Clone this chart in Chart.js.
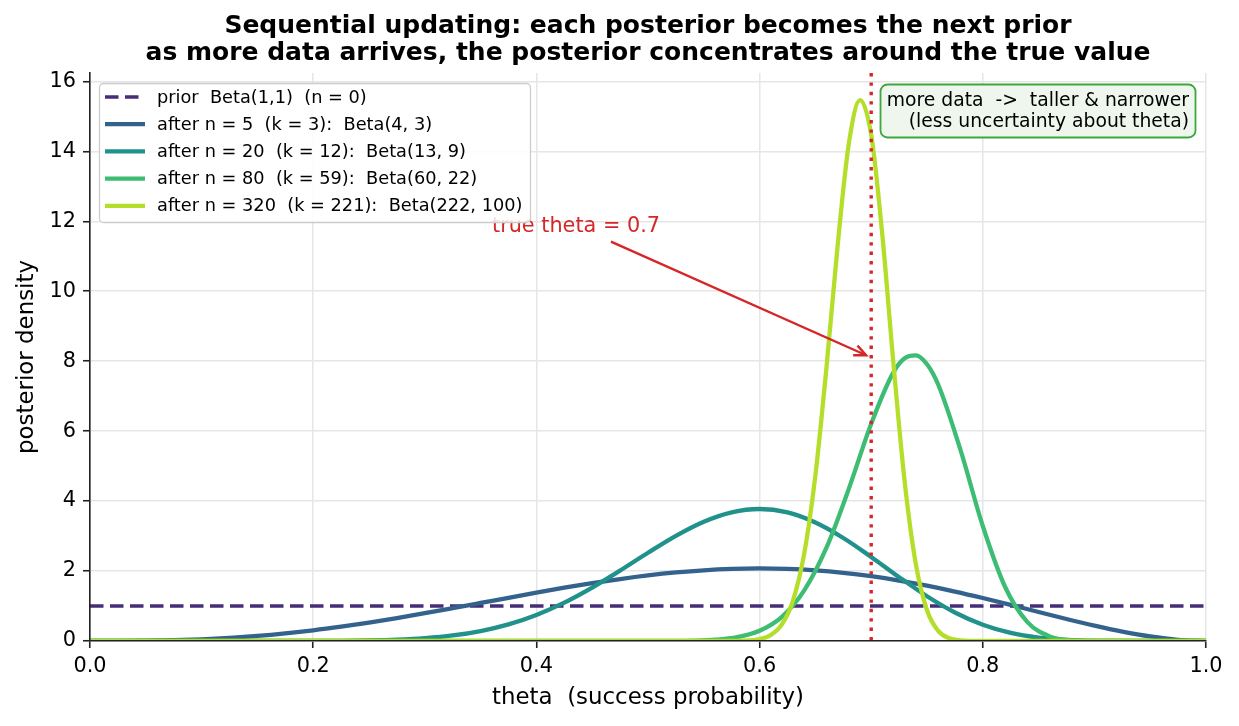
<!DOCTYPE html>
<html>
<head>
<meta charset="utf-8">
<script src="https://cdn.jsdelivr.net/npm/chart.js@4.4.1/dist/chart.umd.min.js"></script>
<style>
  html, body { margin: 0; padding: 0; background: #fff; }
  #wrap { width: 1239px; height: 726px; }
</style>
</head>
<body>
<div id="wrap"><canvas id="chart" width="1239" height="726"></canvas></div>
<script>
// Posterior densities (theta grid + density per curve)
const priorTheta = [0, 1];
const priorDensity = [1, 1];

const theta5 = [0, 0.025, 0.05, 0.075, 0.1, 0.125, 0.15, 0.175, 0.2, 0.225, 0.25, 0.275, 0.3, 0.325, 0.35, 0.375, 0.4, 0.425, 0.45, 0.475, 0.5,
    0.525, 0.55, 0.575, 0.6, 0.625, 0.65, 0.675, 0.7, 0.725, 0.75, 0.775, 0.8, 0.825, 0.85, 0.875, 0.9, 0.925, 0.95, 0.975, 1];
const density5 = [0, 0.0009, 0.007, 0.022, 0.049, 0.090, 0.146, 0.219, 0.307, 0.411, 0.527, 0.656, 0.794, 0.939, 1.087, 1.236, 1.382, 1.523, 1.654, 1.772, 1.875,
    1.959, 2.022, 2.060, 2.074, 2.060, 2.019, 1.949, 1.852, 1.729, 1.582, 1.414, 1.229, 1.032, 0.829, 0.628, 0.437, 0.267, 0.129, 0.035, 0];

const theta20 = [0, 0.1, 0.15, 0.2, 0.225, 0.25, 0.275, 0.3, 0.325, 0.35, 0.375, 0.4, 0.425, 0.45, 0.475, 0.5, 0.525, 0.55, 0.575, 0.6,
    0.625, 0.65, 0.675, 0.7, 0.725, 0.75, 0.775, 0.8, 0.825, 0.85, 0.875, 0.9, 0.95, 1];
const density20 = [0, 0, 0.0001, 0.002, 0.006, 0.016, 0.038, 0.081, 0.158, 0.285, 0.476, 0.746, 1.098, 1.528, 2.014, 2.522, 3.006, 3.409, 3.678, 3.774,
    3.676, 3.388, 2.946, 2.403, 1.825, 1.279, 0.816, 0.465, 0.231, 0.097, 0.032, 0.007, 0.0001, 0];

const theta80 = [0, 0.48, 0.5, 0.52, 0.54, 0.56, 0.58, 0.6, 0.62, 0.64, 0.66, 0.68, 0.7, 0.72, 0.73, 0.74, 0.75, 0.76, 0.78, 0.8, 0.82, 0.84, 0.86, 0.88, 0.9, 0.92, 1];
const density80 = [0, 0.0001, 0.0007, 0.003, 0.011, 0.037, 0.111, 0.293, 0.691, 1.445, 2.674, 4.357, 6.212, 7.689, 8.083, 8.166, 7.912, 7.334, 5.463, 3.287, 1.544, 0.539, 0.131, 0.020, 0.0016, 0.0001, 0];

const theta320 = [0, 0.58, 0.59, 0.6, 0.61, 0.62, 0.63, 0.64, 0.65, 0.66, 0.67, 0.68, 0.69, 0.7, 0.71, 0.72, 0.73, 0.74, 0.75, 0.76, 0.77, 0.78, 0.79, 0.8, 1];
const density320 = [0, 0.004, 0.015, 0.054, 0.171, 0.474, 1.162, 2.504, 4.737, 7.845, 11.331, 14.232, 15.465, 14.474, 11.6, 7.908, 4.553, 2.195, 0.878, 0.288, 0.077, 0.016, 0.003, 0.0004, 0];

const seriesLabels = [
    'prior  Beta(1,1)  (n = 0)',
    'after n = 5  (k = 3):  Beta(4, 3)',
    'after n = 20  (k = 12):  Beta(13, 9)',
    'after n = 80  (k = 59):  Beta(60, 22)',
    'after n = 320  (k = 221):  Beta(222, 100)'
];
const seriesColors = ['#472c7a', '#33638d', '#21918c', '#3dbc74', '#b5de2b'];

const xTicks = [0, 0.2, 0.4, 0.6, 0.8, 1.0];
const yTicks = [0, 2, 4, 6, 8, 10, 12, 14, 16];

const trueTheta = 0.7;
const titleLines = [
    'Sequential updating: each posterior becomes the next prior',
    'as more data arrives, the posterior concentrates around the true value'
];
const noteLines = ['more data  ->  taller & narrower', '(less uncertainty about theta)'];

const RED = '#d62728';
const FONT = "'DejaVu Sans', 'Liberation Sans', sans-serif";

function toPoints(xs, ys) {
    return xs.map((x, i) => ({ x: x, y: ys[i] }));
}

const thetas = [priorTheta, theta5, theta20, theta80, theta320];
const densities = [priorDensity, density5, density20, density80, density320];

const datasets = thetas.map((xs, i) => ({
    label: seriesLabels[i],
    data: toPoints(xs, densities[i]),
    borderColor: seriesColors[i],
    borderWidth: i === 0 ? 3.3 : 4.3,
    borderDash: i === 0 ? [13.5, 6.5] : [],
    pointRadius: 0,
    fill: false,
    cubicInterpolationMode: 'monotone',
    clip: 0,
    order: 5 - i
}));

// Extra drawing: true value line, annotation, legend box, note box, title
const extras = {
    id: 'extras',
    beforeDraw(chart) {
        const ctx = chart.ctx;
        ctx.save();
        ctx.fillStyle = '#fff';
        ctx.fillRect(0, 0, chart.width, chart.height);
        ctx.restore();
    },
    afterDatasetsDraw(chart) {
        const { ctx, chartArea } = chart;
        const xs = chart.scales.x, ys = chart.scales.y;
        ctx.save();
        ctx.beginPath();
        ctx.rect(chartArea.left, chartArea.top, chartArea.right - chartArea.left, chartArea.bottom - chartArea.top);
        ctx.clip();

        // vertical dotted line at the true value
        const px = xs.getPixelForValue(trueTheta);
        ctx.strokeStyle = RED;
        ctx.lineWidth = 3.4;
        ctx.setLineDash([3.4, 6]);
        ctx.beginPath();
        ctx.moveTo(px, chartArea.top);
        ctx.lineTo(px, chartArea.bottom);
        ctx.stroke();
        ctx.setLineDash([]);

        // annotation arrow
        const x0 = xs.getPixelForValue(0.4668), y0 = ys.getPixelForValue(11.42);
        const x1 = xs.getPixelForValue(0.6955), y1 = ys.getPixelForValue(8.17);
        ctx.lineWidth = 2.4;
        ctx.beginPath();
        ctx.moveTo(x0, y0);
        ctx.lineTo(x1, y1);
        ctx.stroke();
        const ang = Math.atan2(y1 - y0, x1 - x0);
        const head = 13;
        ctx.beginPath();
        ctx.moveTo(x1 - head * Math.cos(ang - 0.42), y1 - head * Math.sin(ang - 0.42));
        ctx.lineTo(x1, y1);
        ctx.lineTo(x1 - head * Math.cos(ang + 0.42), y1 - head * Math.sin(ang + 0.42));
        ctx.stroke();

        ctx.fillStyle = RED;
        ctx.font = '20.8px ' + FONT;
        ctx.textAlign = 'left';
        ctx.textBaseline = 'middle';
        ctx.fillText('true theta = 0.7', xs.getPixelForValue(0.3602), ys.getPixelForValue(11.84));
        ctx.restore();
    },
    afterDraw(chart) {
        const ctx = chart.ctx;
        ctx.save();

        // title
        ctx.fillStyle = '#000';
        ctx.font = 'bold 25px ' + FONT;
        ctx.textAlign = 'center';
        ctx.textBaseline = 'middle';
        const cx = (chart.chartArea.left + chart.chartArea.right) / 2;
        ctx.fillText(titleLines[0], cx, 26);
        ctx.fillText(titleLines[1], cx, 53.5);

        // legend
        ctx.beginPath();
        ctx.roundRect(99.5, 83.5, 431, 139, 4);
        ctx.fillStyle = 'rgba(255,255,255,0.85)';
        ctx.fill();
        ctx.strokeStyle = '#cccccc';
        ctx.lineWidth = 1.3;
        ctx.stroke();
        ctx.font = '17.75px ' + FONT;
        ctx.textAlign = 'left';
        chart.data.datasets.forEach((ds, i) => {
            const y = 97 + i * 27.2;
            ctx.strokeStyle = ds.borderColor;
            ctx.lineWidth = ds.borderWidth;
            ctx.setLineDash(ds.borderDash);
            ctx.beginPath();
            ctx.moveTo(105, y);
            ctx.lineTo(145, y);
            ctx.stroke();
            ctx.setLineDash([]);
            ctx.fillStyle = '#000';
            ctx.fillText(ds.label, 157, y + 1);
        });

        // note box
        ctx.beginPath();
        ctx.roundRect(880.5, 84.5, 315, 53, 7);
        ctx.fillStyle = '#eef6ee';
        ctx.fill();
        ctx.strokeStyle = '#3ea63e';
        ctx.lineWidth = 1.8;
        ctx.stroke();
        ctx.fillStyle = '#000';
        ctx.font = '18.75px ' + FONT;
        ctx.textAlign = 'right';
        ctx.fillText(noteLines[0], 1189, 101);
        ctx.fillText(noteLines[1], 1189, 122);
        ctx.restore();
    }
};

Chart.defaults.font.family = FONT;
Chart.defaults.color = '#000';

new Chart(document.getElementById('chart'), {
    type: 'line',
    data: { datasets: datasets },
    options: {
        responsive: false,
        animation: false,
        devicePixelRatio: 1,
        layout: { padding: { left: 0, right: 33, top: 73, bottom: 0 } },
        plugins: {
            legend: { display: false },
            title: { display: false },
            tooltip: { enabled: false }
        },
        scales: {
            x: {
                type: 'linear',
                min: 0,
                max: 1,
                afterFit: s => { s.height = 85; },
                afterBuildTicks: s => { s.ticks = xTicks.map(v => ({ value: v })); },
                ticks: {
                    font: { size: 20.8 },
                    color: '#000',
                    padding: 6,
                    maxRotation: 0,
                    autoSkip: false,
                    callback: v => Number(v).toFixed(1)
                },
                grid: { color: '#e6e6e6', lineWidth: 1.5, tickLength: 7, tickColor: '#222', tickWidth: 1.6 },
                border: { display: true, color: '#222', width: 1.6, z: 1 },
                title: { display: true, text: 'theta  (success probability)', font: { size: 22.9 }, color: '#000', padding: { top: 0, bottom: 14 } }
            },
            y: {
                type: 'linear',
                min: 0,
                max: 16.24,
                afterFit: s => { s.width = 90; },
                afterBuildTicks: s => { s.ticks = yTicks.map(v => ({ value: v })); },
                ticks: {
                    font: { size: 20.8 },
                    color: '#000',
                    padding: 7,
                    autoSkip: false,
                    callback: v => String(v)
                },
                grid: { color: '#e6e6e6', lineWidth: 1.5, tickLength: 7, tickColor: '#222', tickWidth: 1.6 },
                border: { display: true, color: '#222', width: 1.6, z: 1 },
                title: { display: true, text: 'posterior density', font: { size: 22.9 }, color: '#000', padding: { top: 13, bottom: 0 } }
            }
        }
    },
    plugins: [extras]
});
</script>
</body>
</html>
